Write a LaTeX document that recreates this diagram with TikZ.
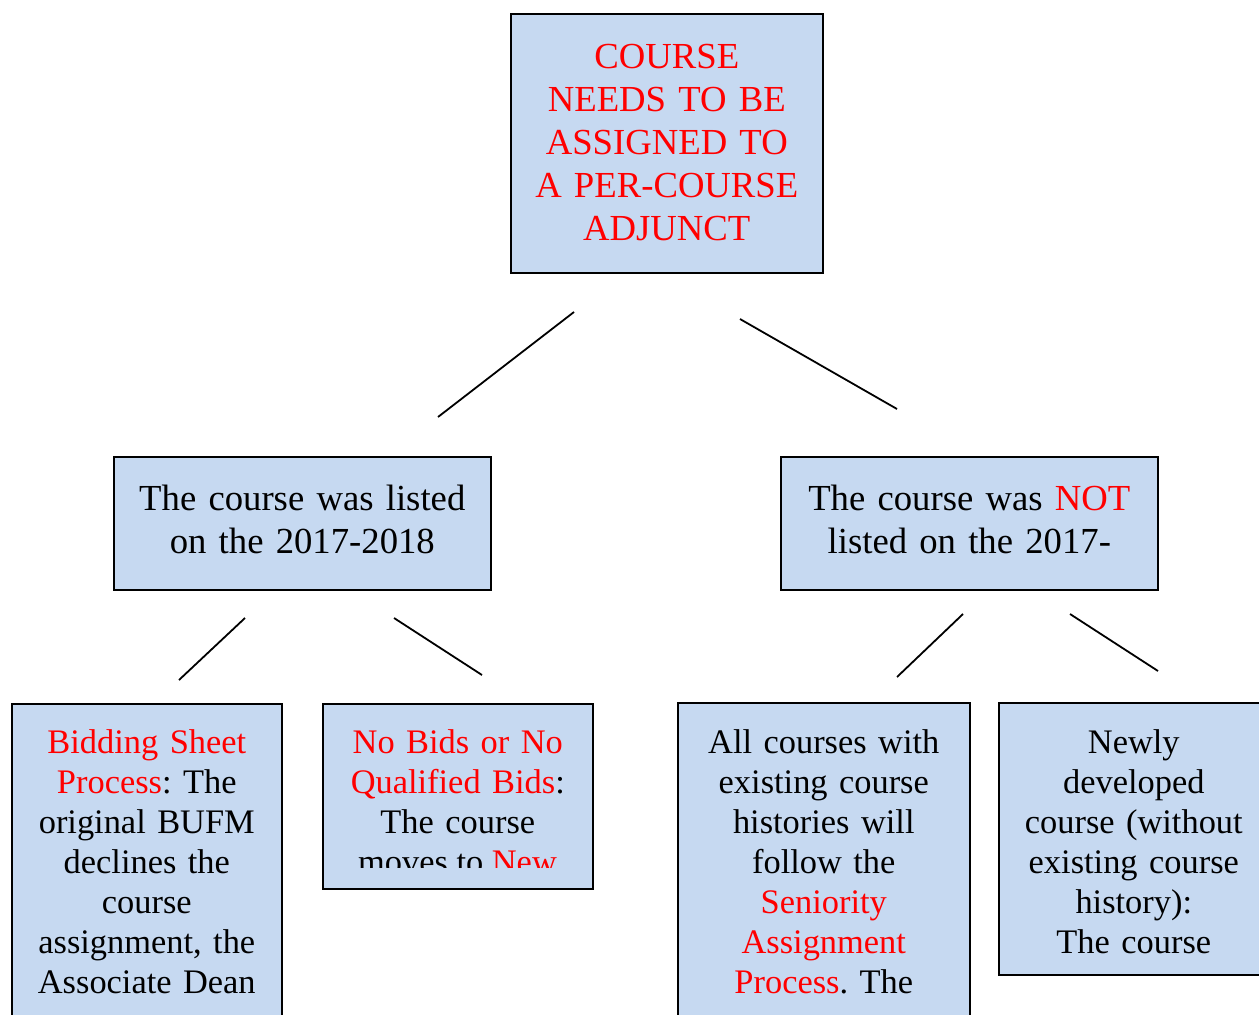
\documentclass[tikz,border=0pt]{standalone}
\usepackage{fontspec}
\setmainfont{Liberation Serif}
\usepackage{xcolor}
\usetikzlibrary{positioning}
\frenchspacing

\definecolor{boxblue}{RGB}{198,217,241}
\newcommand{\hl}[1]{\textcolor{red}{#1}}

\tikzset{
    card/.style={draw, fill=boxblue, line width=1.6pt, inner sep=0pt,
        anchor=north west, align=center},
    bigtext/.style={font=\fontsize{36.7}{43}\selectfont},
    smalltext/.style={font=\fontsize{34.4}{40}\selectfont},
    branch/.style={line width=1.8pt}
}

\begin{document}
\begin{tikzpicture}[x=1pt, y=-1pt]
    \useasboundingbox (0, 0) rectangle (1259, 1015);
    \clip (0, 0) rectangle (1259, 1015);

    \node[card, bigtext, text width=312pt, text height=55pt, text depth=204pt] (root) at (510, 13)
        {\hl{COURSE}\\ \hl{NEEDS TO BE}\\ \hl{ASSIGNED TO}\\ \hl{A PER-COURSE}\\ \hl{ADJUNCT}};

    \node[card, bigtext, text width=377pt, text height=54pt, text depth=79pt] (listed) at (113, 456)
        {The course was listed\\ on the 2017-2018};
    \node[card, bigtext, text width=377pt, text height=54pt, text depth=79pt] (notlisted) at (780, 456)
        {The course was \hl{NOT}\\ listed on the 2017-};

    \node[card, smalltext, text width=270pt, text height=50pt, text depth=290pt] (bidding) at (11, 703)
        {\hl{Bidding Sheet}\\ \hl{Process}: The\\ original BUFM\\ declines the\\ course\\ assignment, the\\ Associate Dean};
    \node[card, smalltext, text width=270pt, text height=50pt, text depth=135pt] (nobids) at (322, 703)
        {\hl{No Bids or No}\\ \hl{Qualified Bids}:\\ The course};
    \begin{scope}
        \clip (nobids.north west) rectangle (591, 867.5);
        \node[smalltext, inner sep=0pt, anchor=base] (nobidsmore) at (457.5, 873) {moves to \hl{New}};
    \end{scope}
    \node[card, smalltext, text width=292pt, text height=51pt, text depth=290pt] (seniority) at (677, 702)
        {All courses with\\ existing course\\ histories will\\ follow the\\ \hl{Seniority}\\ \hl{Assignment}\\ \hl{Process}. The};
    \node[card, smalltext, text width=270pt, text height=51pt, text depth=221pt] (newly) at (998, 702)
        {Newly\\ developed\\ course (without\\ existing course\\ history):\\ The course};

    \coordinate (a1) at (574, 312);   \coordinate (a2) at (438, 417);
    \coordinate (b1) at (740, 319);   \coordinate (b2) at (897, 409);
    \coordinate (c1) at (245, 618);   \coordinate (c2) at (179, 680);
    \coordinate (d1) at (394, 618);   \coordinate (d2) at (482, 675);
    \coordinate (e1) at (963, 614);   \coordinate (e2) at (897, 677);
    \coordinate (f1) at (1070, 614);  \coordinate (f2) at (1158, 671);
    \draw[branch]
    (a1) -- (a2)
    (b1) -- (b2)
    (c1) -- (c2)
    (d1) -- (d2)
    (e1) -- (e2)
    (f1) -- (f2);
\end{tikzpicture}
\end{document}
